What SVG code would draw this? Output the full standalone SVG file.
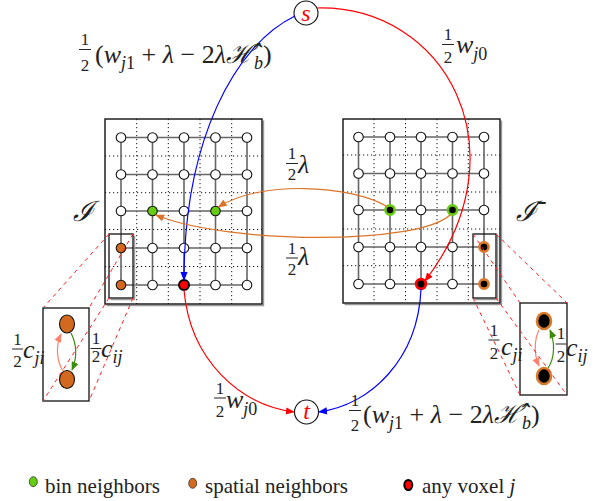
<svg xmlns="http://www.w3.org/2000/svg" width="593" height="501" viewBox="0 0 593 501">
<style>
.t{font-family:"Liberation Serif","DejaVu Serif",serif;fill:#222}
.m{font-size:26px}
.i{font-style:italic}
.f{font-size:17px;text-anchor:middle}
.s{font-size:18px}
.bar{stroke:#222;stroke-width:1}
.box{fill:#fff;stroke:#111;stroke-width:1.4}
.shadow{fill:none;stroke:#999;stroke-width:1.4}
.dot{stroke:#111;stroke-width:1;stroke-dasharray:1.2 2.8;fill:none}
.gl{stroke:#666;stroke-width:1.6;fill:none}
.n{fill:#fff;stroke:#111;stroke-width:1.1}
.dash{stroke:#f22;stroke-width:1;stroke-dasharray:4 4;fill:none}
.hr{fill:none;stroke:#111;stroke-width:1.3}
.ar{fill:none;stroke-width:1.2}
</style>
<defs>
<marker id="mb" viewBox="0 0 10 10" refX="9" refY="5" markerWidth="9" markerHeight="9" orient="auto" markerUnits="userSpaceOnUse"><path d="M0,1 L10,5 L0,9 z" fill="#00f"/></marker>
<marker id="mr" viewBox="0 0 10 10" refX="9" refY="5" markerWidth="9" markerHeight="9" orient="auto" markerUnits="userSpaceOnUse"><path d="M0,1 L10,5 L0,9 z" fill="#f00"/></marker>
<marker id="mo" viewBox="0 0 10 10" refX="9" refY="5" markerWidth="9" markerHeight="9" orient="auto" markerUnits="userSpaceOnUse"><path d="M0,1 L10,5 L0,9 z" fill="#dc7328"/></marker>
<marker id="ms" viewBox="0 0 10 10" refX="9" refY="5" markerWidth="9" markerHeight="9" orient="auto" markerUnits="userSpaceOnUse"><path d="M0,1 L10,5 L0,9 z" fill="#ff7f6a"/></marker>
<marker id="mg" viewBox="0 0 10 10" refX="9" refY="5" markerWidth="9" markerHeight="9" orient="auto" markerUnits="userSpaceOnUse"><path d="M0,1 L10,5 L0,9 z" fill="#3c8c0c"/></marker>
</defs>
<rect width="593" height="501" fill="#fff"/>

<!-- Left grid I -->
<g id="gridI">
<path class="shadow" d="M263.5,120.5 V305.5 H106.5"/>
<rect class="box" x="105" y="119" width="157" height="185"/>
<path class="dot" d="M136.7,119V304 M168.3,119V304 M200,119V304 M231.7,119V304 M105,156H262 M105,192.7H262 M105,229.5H262 M105,266.5H262"/>
<path class="gl" d="M121,137.5H247 M121,174.5H247 M121,211H247 M121,248H247 M121,285H247 M121,137.5V285 M152.5,137.5V285 M184,137.5V285 M215.5,137.5V285 M247,137.5V285"/>
<g class="n">
<circle cx="121" cy="137.5" r="4.8"/><circle cx="152.5" cy="137.5" r="4.8"/><circle cx="184" cy="137.5" r="4.8"/><circle cx="215.5" cy="137.5" r="4.8"/><circle cx="247" cy="137.5" r="4.8"/>
<circle cx="121" cy="174.5" r="4.8"/><circle cx="152.5" cy="174.5" r="4.8"/><circle cx="184" cy="174.5" r="4.8"/><circle cx="215.5" cy="174.5" r="4.8"/><circle cx="247" cy="174.5" r="4.8"/>
<circle cx="121" cy="211" r="4.8"/><circle cx="184" cy="211" r="4.8"/><circle cx="247" cy="211" r="4.8"/>
<circle cx="152.5" cy="248" r="4.8"/><circle cx="184" cy="248" r="4.8"/><circle cx="215.5" cy="248" r="4.8"/><circle cx="247" cy="248" r="4.8"/>
<circle cx="152.5" cy="285" r="4.8"/><circle cx="215.5" cy="285" r="4.8"/><circle cx="247" cy="285" r="4.8"/>
</g>
<circle cx="152.5" cy="211" r="4.8" fill="#66cc11" stroke="#111" stroke-width="1.1"/>
<circle cx="215.5" cy="211" r="4.8" fill="#66cc11" stroke="#111" stroke-width="1.1"/>
<circle cx="121" cy="248" r="4.8" fill="#d2691e" stroke="#111" stroke-width="1.1"/>
<circle cx="121" cy="285" r="4.8" fill="#d2691e" stroke="#111" stroke-width="1.1"/>
<circle cx="184" cy="285" r="5" fill="#f00" stroke="#000" stroke-width="2"/>
<path class="shadow" d="M134.5,235.5 V299.5 H110.5"/>
<rect class="hr" x="109" y="234" width="24" height="64"/>
</g>

<!-- Right grid I-bar -->
<g id="gridIbar">
<path class="shadow" d="M501.5,120.5 V304.5 H344.5"/>
<rect class="box" x="343" y="119" width="157" height="184"/>
<path class="dot" d="M374,119V303 M405.5,119V303 M437,119V303 M468.3,119V303 M343,155H500 M343,192H500 M343,229H500 M343,265.7H500"/>
<path class="gl" d="M358.5,137H484 M358.5,173.5H484 M358.5,210H484 M358.5,247H484 M358.5,284H484 M358.5,137V284 M390,137V284 M421,137V284 M452.5,137V284 M484,137V284"/>
<g class="n">
<circle cx="358.5" cy="137" r="4.8"/><circle cx="390" cy="137" r="4.8"/><circle cx="421" cy="137" r="4.8"/><circle cx="452.5" cy="137" r="4.8"/><circle cx="484" cy="137" r="4.8"/>
<circle cx="358.5" cy="173.5" r="4.8"/><circle cx="390" cy="173.5" r="4.8"/><circle cx="421" cy="173.5" r="4.8"/><circle cx="452.5" cy="173.5" r="4.8"/><circle cx="484" cy="173.5" r="4.8"/>
<circle cx="358.5" cy="210" r="4.8"/><circle cx="421" cy="210" r="4.8"/><circle cx="484" cy="210" r="4.8"/>
<circle cx="358.5" cy="247" r="4.8"/><circle cx="390" cy="247" r="4.8"/><circle cx="421" cy="247" r="4.8"/><circle cx="452.5" cy="247" r="4.8"/>
<circle cx="358.5" cy="284" r="4.8"/><circle cx="390" cy="284" r="4.8"/><circle cx="452.5" cy="284" r="4.8"/>
</g>
<circle cx="390" cy="210" r="4.6" fill="#000" stroke="#66cc11" stroke-width="2.6"/>
<circle cx="452.5" cy="210" r="4.6" fill="#000" stroke="#66cc11" stroke-width="2.6"/>
<circle cx="484" cy="247" r="4.6" fill="#000" stroke="#d97a2a" stroke-width="2.6"/>
<circle cx="484" cy="284" r="4.6" fill="#000" stroke="#d97a2a" stroke-width="2.6"/>
<circle cx="421" cy="284" r="4.8" fill="#000" stroke="#f00" stroke-width="2.8"/>
<path class="shadow" d="M497.5,235.5 V299.5 H474.5"/>
<rect class="hr" x="473" y="234" width="23" height="64"/>
</g>

<!-- zoom panels -->
<g id="panelL">
<rect class="hr" x="43" y="308" width="46" height="93" fill="#fff"/>
<ellipse cx="67" cy="324" rx="7.5" ry="9" fill="#d2691e" stroke="#111" stroke-width="1.1"/>
<ellipse cx="67" cy="379.5" rx="7.5" ry="9" fill="#d2691e" stroke="#111" stroke-width="1.1"/>
<path class="ar" stroke="#ff7f6a" stroke-width="2" d="M63,371 C56,360 56,345 61,334" marker-end="url(#ms)"/>
<path class="ar" stroke="#3c8c0c" stroke-width="2" d="M71,333 C77,345 77,358 72,370" marker-end="url(#mg)"/>
</g>
<g id="panelR">
<rect class="hr" x="520" y="303" width="47" height="92" fill="#fff"/>
<ellipse cx="544" cy="321" rx="7" ry="8" fill="#000" stroke="#d97a2a" stroke-width="2.6"/>
<ellipse cx="544" cy="376" rx="7" ry="8" fill="#000" stroke="#d97a2a" stroke-width="2.6"/>
<path class="ar" stroke="#ff7f6a" stroke-width="2" d="M539,330 C534,340 534,355 539,366" marker-end="url(#ms)"/>
<path class="ar" stroke="#3c8c0c" stroke-width="2" d="M548,368 C555,358 555,342 550,330" marker-end="url(#mg)"/>
</g>

<!-- s and t -->
<g id="s"><circle cx="306" cy="13" r="12" fill="#fff" stroke="#111" stroke-width="1.1"/><text class="t i" x="306" y="21" font-size="24" text-anchor="middle" fill="#f00" style="fill:#f00">s</text></g>
<g id="t"><circle cx="306.5" cy="412" r="12" fill="#fff" stroke="#111" stroke-width="1.1"/><text class="t i" x="306.5" y="419" font-size="24" text-anchor="middle" style="fill:#f00">t</text></g>

<!-- connectors -->
<g id="connectors">
<path class="dash" d="M109,234 L43,308 M133,234 L89,308 M109,298 L43,401 M133,298 L89,401"/>
<path class="dash" d="M473,234 L520,303 M496,234 L567,303 M473,298 L520,395 M496,298 L567,395"/>
<path class="ar" stroke="#00f" d="M295,16 C235,45 184,140 184,280" marker-end="url(#mb)"/>
<path class="ar" stroke="#f00" d="M317,8 C445,5 525,150 425,281" marker-end="url(#mr)"/>
<path class="ar" stroke="#f00" d="M184,290 C190,360 240,405 294,412" marker-end="url(#mr)"/>
<path class="ar" stroke="#00f" d="M421,289 C418,360 370,405 319,412" marker-end="url(#mb)"/>
<path class="ar" stroke="#dc7328" d="M387,206.5 C350,185 260,180 218.5,207" marker-end="url(#mo)"/>
<path class="ar" stroke="#dc7328" d="M450.5,214.5 C420,245 230,245 156,215" marker-end="url(#mo)"/>
</g>

<!-- labels -->
<g id="labels">
<text class="t f" x="85" y="45">1</text><line class="bar" x1="79" y1="49.5" x2="91" y2="49.5"/><text class="t f" x="85" y="71">2</text>
<text class="t m" x="95" y="63">(<tspan class="i">w</tspan><tspan class="s i" dy="6">j</tspan><tspan class="s">1</tspan><tspan dy="-6"> + </tspan><tspan class="i">λ</tspan> − 2<tspan class="i">λℋ̂</tspan><tspan class="s i" dy="6">b</tspan><tspan dy="-6">)</tspan></text>

<text class="t f" x="448" y="40">1</text><line class="bar" x1="442" y1="44.5" x2="454" y2="44.5"/><text class="t f" x="448" y="63">2</text>
<text class="t m i" x="456" y="53">w<tspan class="s" dy="7">j</tspan><tspan class="s" style="font-style:normal">0</tspan></text>

<text class="t f" x="292" y="159">1</text><line class="bar" x1="286" y1="163.5" x2="298" y2="163.5"/><text class="t f" x="292" y="180">2</text>
<text class="t m i" x="298" y="173">λ</text>
<text class="t f" x="292" y="254">1</text><line class="bar" x1="286" y1="258" x2="298" y2="258"/><text class="t f" x="292" y="275">2</text>
<text class="t m i" x="298" y="265">λ</text>

<text class="t f" x="220" y="394">1</text><line class="bar" x1="214" y1="398" x2="226" y2="398"/><text class="t f" x="220" y="417">2</text>
<text class="t m i" x="226" y="408">w<tspan class="s" dy="7">j</tspan><tspan class="s" style="font-style:normal">0</tspan></text>

<text class="t f" x="355" y="406">1</text><line class="bar" x1="349" y1="410.5" x2="361" y2="410.5"/><text class="t f" x="355" y="431">2</text>
<text class="t m" x="363" y="423">(<tspan class="i">w</tspan><tspan class="s i" dy="6">j</tspan><tspan class="s">1</tspan><tspan dy="-6"> + </tspan><tspan class="i">λ</tspan> − 2<tspan class="i">λℋ̂</tspan><tspan class="s i" dy="6">b</tspan><tspan dy="-6">)</tspan></text>

<text class="t i" x="73" y="221" font-size="28">ℐ</text>
<text class="t i" x="516" y="221" font-size="28">ℐ̄</text>

<text class="t f" x="17.5" y="345">1</text><line class="bar" x1="12" y1="349" x2="23" y2="349"/><text class="t f" x="17.5" y="367">2</text>
<text class="t m i" x="23" y="358">c<tspan class="s" dy="6">ji</tspan></text>
<text class="t f" x="96" y="344">1</text><line class="bar" x1="90.5" y1="348.5" x2="101.5" y2="348.5"/><text class="t f" x="96" y="362">2</text>
<text class="t m i" x="101" y="357">c<tspan class="s" dy="6">ij</tspan></text>
<text class="t f" x="494" y="336">1</text><line class="bar" x1="488.5" y1="340" x2="499.5" y2="340"/><text class="t f" x="494" y="359">2</text>
<text class="t m i" x="501" y="355">c<tspan class="s" dy="6">ji</tspan></text>
<text class="t f" x="561" y="339">1</text><line class="bar" x1="555.5" y1="344" x2="566.5" y2="344"/><text class="t f" x="561" y="362">2</text>
<text class="t m i" x="566" y="356">c<tspan class="s" dy="6">ij</tspan></text>
</g>

<!-- legend -->
<g id="legend">
<ellipse cx="33.3" cy="481.7" rx="4" ry="5" fill="#66cc11" stroke="#333" stroke-width="0.8"/>
<text class="t" x="45" y="493" font-size="21">bin neighbors</text>
<ellipse cx="192.7" cy="483.3" rx="4" ry="5" fill="#d2691e" stroke="#333" stroke-width="0.8"/>
<text class="t" x="205" y="493" font-size="21">spatial neighbors</text>
<ellipse cx="408.3" cy="485" rx="4" ry="5" fill="#f00" stroke="#000" stroke-width="2"/>
<text class="t" x="422" y="493" font-size="21">any voxel <tspan class="i">j</tspan></text>
</g>
</svg>
